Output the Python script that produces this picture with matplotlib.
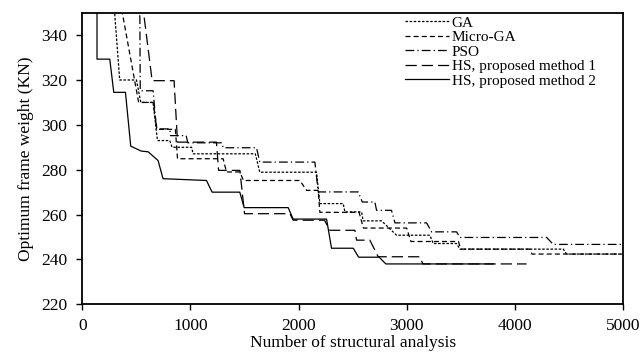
import numpy as np
import matplotlib
matplotlib.use("Agg")
from matplotlib import pyplot as plt

plt.rcParams['font.family'] = ['Liberation Serif', 'DejaVu Serif']

# convergence histories (x = analyses, y = weight in KN)
ga_x = [290, 345, 500, 540, 654, 694, 808, 830, 1010, 1024, 1600, 1641, 2166, 2197, 2413, 2429,
        2583, 2598, 2768, 2907, 3215, 3246, 3462, 3493, 4450, 4480, 5000]
ga_y = [355, 320, 320, 310, 310, 293, 293, 290, 290, 287.1, 287.1, 278.9, 278.9, 264.9, 264.9, 261.2,
        261.2, 257.2, 257.2, 250.8, 250.8, 247.1, 247.1, 244.6, 244.6, 242.4, 242.4]

mga_x = [350, 520, 654, 690, 860, 880, 1302, 1333, 1457, 1490, 2012, 2074, 2182, 2197, 2560, 2600,
         3000, 3040, 3480, 3500, 4141, 4160, 5000]
mga_y = [355, 310, 310, 298, 298, 284.9, 284.9, 279, 279, 275.2, 275.2, 270.8, 270.8, 261, 261, 254,
         254, 248, 248, 244.6, 244.6, 242.4, 242.4]

pso_x = [530, 535, 654, 685, 808, 815, 960, 975, 1290, 1302, 1611, 1641, 2151, 2182, 2552, 2590,
         2706, 2722, 2860, 2892, 3185, 3231, 3462, 3493, 4296, 4357, 5000]
pso_y = [360, 315.2, 315.2, 298.2, 298.2, 295.2, 295.2, 292, 292, 289.8, 289.8, 283.4, 283.4, 270.1,
         270.1, 265.6, 265.6, 261.9, 261.9, 256.3, 256.3, 252.3, 252.3, 249.8, 249.8, 246.7, 246.7]

hs1_x = [553, 645, 848, 880, 1240, 1260, 1457, 1500, 1920, 1950, 2240, 2290, 2521, 2537, 2660,
         2737, 3123, 3150, 4110]
hs1_y = [355, 319.7, 319.7, 292.3, 292.3, 279.7, 279.7, 260.4, 260.4, 257.5, 257.5, 253, 253,
         248.6, 248.6, 241.2, 241.2, 238, 238]

hs2_x = [135, 135, 253, 290, 398, 447, 545, 608, 700, 746, 1148, 1200, 1456, 1497, 1904, 1950,
         2259, 2305, 2506, 2556, 2746, 2808, 3802]
hs2_y = [360, 329.3, 329.3, 314.5, 314.5, 290.5, 288.3, 288, 284.1, 276, 275.2, 270, 270, 263.1,
         263.1, 258, 258, 245, 245, 241, 241, 238, 238]

labels = ["GA", "Micro-GA", "PSO", "HS, proposed method 1", "HS, proposed method 2"]

fig = plt.figure(figsize=(6.44, 3.57), dpi=100)
ax = fig.add_axes([0.128, 0.1476, 0.839, 0.8168])

lw = 0.9
ax.plot(ga_x, ga_y, color="black", lw=lw, linestyle=(0, (2, 1.3)), label=labels[0])
ax.plot(mga_x, mga_y, color="black", lw=lw, linestyle=(0, (4, 2.5)), label=labels[1])
ax.plot(pso_x, pso_y, color="black", lw=lw, linestyle=(0, (7, 2.5, 1, 2.5)), label=labels[2])
ax.plot(hs1_x, hs1_y, color="black", lw=lw, linestyle=(0, (9, 4)), label=labels[3])
ax.plot(hs2_x, hs2_y, color="black", lw=lw, linestyle="-", label=labels[4])

ax.set_xlim(0, 5000)
ax.set_ylim(220, 350)
ax.set_xticks(np.arange(0, 5001, 1000))
ax.set_yticks(np.arange(220, 341, 20))
ax.tick_params(direction="out", length=4, width=1, labelsize=12.5, colors="black",
               top=False, right=False)
ax.tick_params(axis="x", pad=5.5)
ax.tick_params(axis="y", pad=7)
for s in ax.spines.values():
    s.set_linewidth(1.3)

ax.set_xlabel("Number of structural analysis", fontsize=12.5, labelpad=1)
ax.set_ylabel("Optimum frame weight (KN)", fontsize=12.5, labelpad=5)

ax.legend(loc="upper left", bbox_to_anchor=(405 / 644, 0.955), bbox_transform=fig.transFigure,
          frameon=False, fontsize=11, handlelength=2.9, handletextpad=0.15,
          labelspacing=0.05, borderpad=0, borderaxespad=0)

fig.savefig("out.png", dpi=100)
